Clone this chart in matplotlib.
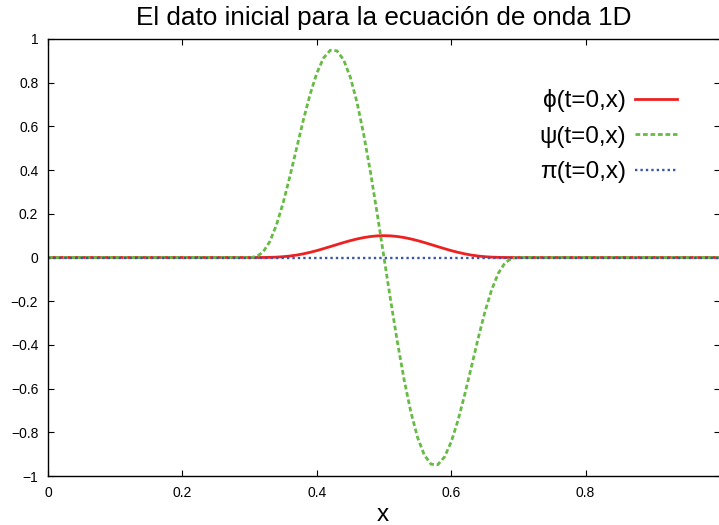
import matplotlib
matplotlib.use("Agg")
import matplotlib.pyplot as plt

plt.rcParams["font.family"] = ["Liberation Sans", "DejaVu Sans"]

# values (bump between x=0.3 and x=0.7)
x = [0.0, 0.30, 0.31, 0.32, 0.33, 0.34, 0.35, 0.36, 0.37, 0.38, 0.39, 0.40,
     0.41, 0.42, 0.43, 0.44, 0.45, 0.46, 0.47, 0.48, 0.49, 0.50,
     0.51, 0.52, 0.53, 0.54, 0.55, 0.56, 0.57, 0.58, 0.59, 0.60,
     0.61, 0.62, 0.63, 0.64, 0.65, 0.66, 0.67, 0.68, 0.69, 0.70, 1.0]
phi = [0.0, 0.0, 0.0000, 0.0001, 0.0006, 0.0017, 0.0037, 0.0068, 0.0111, 0.0168, 0.0237, 0.0316,
       0.0405, 0.0498, 0.0593, 0.0686, 0.0773, 0.0849, 0.0913, 0.0961, 0.0990, 0.1000,
       0.0990, 0.0961, 0.0913, 0.0849, 0.0773, 0.0686, 0.0593, 0.0498, 0.0405, 0.0316,
       0.0237, 0.0168, 0.0111, 0.0068, 0.0037, 0.0017, 0.0006, 0.0001, 0.0000, 0.0, 0.0]
psi = [0.0, 0.0, 0.0035, 0.0247, 0.0727, 0.1493, 0.2512, 0.3714, 0.5008, 0.6291, 0.7465, 0.8438,
       0.9130, 0.9483, 0.9460, 0.9043, 0.8240, 0.7078, 0.5604, 0.3881, 0.1985, 0.0,
       -0.1985, -0.3881, -0.5604, -0.7078, -0.8240, -0.9043, -0.9460, -0.9483, -0.9130, -0.8438,
       -0.7465, -0.6291, -0.5008, -0.3714, -0.2512, -0.1493, -0.0727, -0.0247, -0.0035, 0.0, 0.0]
x_pi = [0.0, 1.0]
pi_vals = [0.0, 0.0]

xticks = [0, 0.2, 0.4, 0.6, 0.8]
xticklabels = ["0", "0.2", "0.4", "0.6", "0.8"]
yticks = [-1, -0.8, -0.6, -0.4, -0.2, 0, 0.2, 0.4, 0.6, 0.8, 1]
yticklabels = ["\u22121", "\u22120.8", "\u22120.6", "\u22120.4", "\u22120.2", "0",
               "0.2", "0.4", "0.6", "0.8", "1"]

W, H = 719, 525
fig = plt.figure(figsize=(W / 100, H / 100), dpi=100)
ax = fig.add_axes([48 / W, 1 - 476 / H, 672 / W, 437 / H])

ax.plot(x, phi, color="#ee2020", lw=2.0, label="\u03d5(t=0,x)")
ax.plot(x, psi, color="#66bb44", lw=2.0, dashes=(1.7, 1.0), label="\u03c8(t=0,x)")
ax.plot(x_pi, pi_vals, color="#3a55a8", lw=1.7, dashes=(1.0, 1.3), label="\u03c0(t=0,x)")

ax.set_xlim(0, 1)
ax.set_ylim(-1, 1)
ax.set_xticks(xticks)
ax.set_xticklabels(xticklabels)
ax.set_yticks(yticks)
ax.set_yticklabels(yticklabels)
ax.tick_params(direction="in", length=4.3, width=0.8, top=True, right=True,
               labelsize=10, colors="black")
ax.tick_params(axis="y", pad=7)
ax.tick_params(axis="x", pad=7)
for s in ax.spines.values():
    s.set_linewidth(1.0)

ax.legend(loc="upper right", bbox_to_anchor=(0.936, 0.885), frameon=False,
          markerfirst=False, fontsize=17.5, handlelength=1.73, handletextpad=0.37,
          labelspacing=0.55, borderpad=0, borderaxespad=0)

fig.text(384 / W, 1 - 25 / H, "El dato inicial para la ecuaci\u00f3n de onda 1D",
         ha="center", va="baseline", fontsize=18.8)
fig.text(383 / W, 1 - 521 / H, "x", ha="center", va="baseline", fontsize=17.5)

fig.savefig("out.png", dpi=100)
